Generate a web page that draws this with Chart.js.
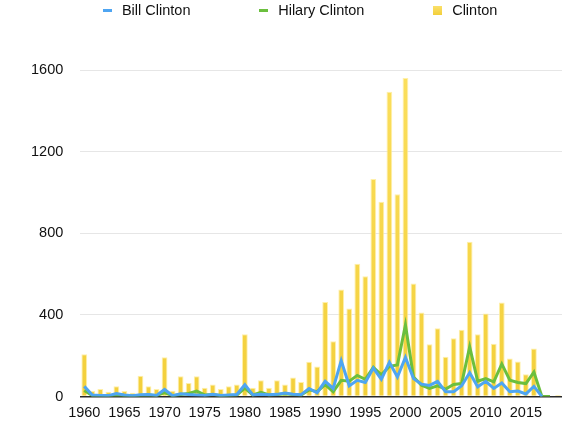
<!DOCTYPE html>
<html>
<head>
<meta charset="utf-8">
<script src="https://cdn.jsdelivr.net/npm/chart.js@4/dist/chart.umd.min.js"></script>
<style>
  html, body { margin: 0; padding: 0; background: #ffffff; }
  #wrap { width: 566px; height: 431px; }
</style>
</head>
<body>
<div id="wrap"><canvas id="chart" width="566" height="431"></canvas></div>
<script>
// Mentions per year, 1960–2019
const years = [];
for (let y = 1960; y <= 2019; y++) years.push(String(y));

const billClinton = [
  50, 8, 6, 5, 15, 8, 4, 9, 10, 6,
  35, 4, 14, 10, 8, 6, 12, 5, 8, 10,
  58, 8, 12, 9, 11, 18, 12, 9, 40, 19,
  75, 40, 176, 53, 80, 69, 140, 85, 168, 96,
  192, 88, 61, 55, 75, 24, 24, 53, 117, 48,
  75, 40, 67, 24, 27, 13, 50, 0, null, null
];

const hilaryClinton = [
  30, 5, 4, 3, 8, 5, 3, 6, 8, 5,
  20, 4, 10, 15, 27, 8, 10, 5, 6, 8,
  42, 8, 21, 8, 10, 14, 10, 8, 33, 24,
  59, 24, 80, 75, 104, 85, 144, 107, 148, 155,
  351, 96, 56, 40, 53, 37, 59, 64, 244, 75,
  88, 72, 160, 80, 69, 64, 120, 0, 0, null
];

const clinton = [
  207, 27, 37, 24, 51, 27, 19, 102, 51, 37,
  193, 29, 100, 67, 100, 43, 59, 37, 51, 59,
  306, 43, 80, 43, 80, 59, 94, 72, 171, 148,
  463, 271, 525, 431, 651, 589, 1066, 955, 1493, 991,
  1561, 554, 412, 257, 335, 195, 286, 327, 758, 306,
  407, 259, 461, 187, 172, 109, 236, 0, 0, 8
];

const yTicks = [0, 400, 800, 1200, 1600];

const FONT = 'Liberation Sans, Arial, Helvetica, sans-serif';
const FONT_SIZE = 14.5;

const BLUE = '#4ea5f2';
const GREEN = '#6bbf3e';

const ctx = document.getElementById('chart').getContext('2d');

// soft vertical gradient for the bars
const barFill = ctx.createLinearGradient(0, 60, 0, 405);
barFill.addColorStop(0, '#fbdf5e');
barFill.addColorStop(1, '#f3cf3a');

// small legend swatches: a short dash for lines, a square for bars
function swatch(w, h, fill) {
  const c = document.createElement('canvas');
  c.width = w;
  c.height = h;
  const g = c.getContext('2d');
  if (Array.isArray(fill)) {
    const gr = g.createLinearGradient(0, 0, 0, h);
    gr.addColorStop(0, fill[0]);
    gr.addColorStop(1, fill[1]);
    g.fillStyle = gr;
  } else {
    g.fillStyle = fill;
  }
  g.fillRect(0, 0, w, h);
  return c;
}
const legendMarks = [
  swatch(9, 3, BLUE),
  swatch(9, 3, GREEN),
  swatch(9, 9, ['#fbe06a', '#f3cf3a'])
];

// nudge the legend row slightly right of its centred position
const legendShift = {
  id: 'legendShift',
  beforeDraw(chart) {
    const lg = chart.legend;
    if (!lg || lg._shifted) return;
    const drawLegend = lg.draw.bind(lg);
    lg.draw = function () {
      chart.ctx.save();
      chart.ctx.translate(9, 0);
      drawLegend();
      chart.ctx.restore();
    };
    lg._shifted = true;
  }
};

new Chart(ctx, {
  data: {
    labels: years,
    datasets: [
      {
        type: 'line',
        label: 'Bill Clinton',
        data: billClinton,
        borderColor: BLUE,
        backgroundColor: BLUE,
        borderWidth: 3,
        pointRadius: 0,
        pointHoverRadius: 0,
        tension: 0,
        spanGaps: false
      },
      {
        type: 'line',
        label: 'Hilary Clinton',
        data: hilaryClinton,
        borderColor: GREEN,
        backgroundColor: GREEN,
        borderWidth: 3,
        pointRadius: 0,
        pointHoverRadius: 0,
        tension: 0,
        spanGaps: false
      },
      {
        type: 'bar',
        label: 'Clinton',
        data: clinton,
        backgroundColor: barFill,
        borderColor: 'rgba(255, 238, 160, 0.9)',
        borderWidth: 1,
        barPercentage: 0.72,
        categoryPercentage: 1.0
      }
    ]
  },
  plugins: [legendShift],
  options: {
    responsive: false,
    animation: false,
    layout: { padding: { left: 14, right: 0, top: -63.25, bottom: 1 } },
    plugins: {
      tooltip: { enabled: false },
      legend: {
        position: 'top',
        labels: {
          usePointStyle: true,
          pointStyleWidth: 14,
          boxHeight: 9,
          padding: 66.5,
          color: '#111',
          font: { family: FONT, size: FONT_SIZE },
          generateLabels: function (chart) {
            const items = Chart.defaults.plugins.legend.labels.generateLabels(chart);
            items.forEach((it, i) => {
              it.pointStyle = legendMarks[i];
              it.lineWidth = 0;
            });
            return items;
          }
        }
      }
    },
    scales: {
      x: {
        offset: true,
        border: { display: false },
        grid: { display: false, drawTicks: false },
        ticks: {
          autoSkip: false,
          maxRotation: 0,
          padding: 8,
          color: '#111',
          font: { family: FONT, size: FONT_SIZE },
          callback: function (value, index) {
            const y = Number(years[index]);
            return y % 5 === 0 && y <= 2015 ? years[index] : '';
          }
        }
      },
      y: {
        min: 0,
        max: 1807,
        border: { display: false },
        afterBuildTicks: function (axis) {
          axis.ticks = yTicks.map(v => ({ value: v }));
        },
        grid: {
          drawTicks: false,
          color: c => (c.tick && c.tick.value === 0 ? '#2a2a2a' : '#e6e6e6'),
          lineWidth: c => (c.tick && c.tick.value === 0 ? 1.5 : 1)
        },
        ticks: {
          padding: 17,
          color: '#111',
          font: { family: FONT, size: FONT_SIZE },
          callback: v => String(v)
        }
      }
    }
  }
});
</script>
</body>
</html>
